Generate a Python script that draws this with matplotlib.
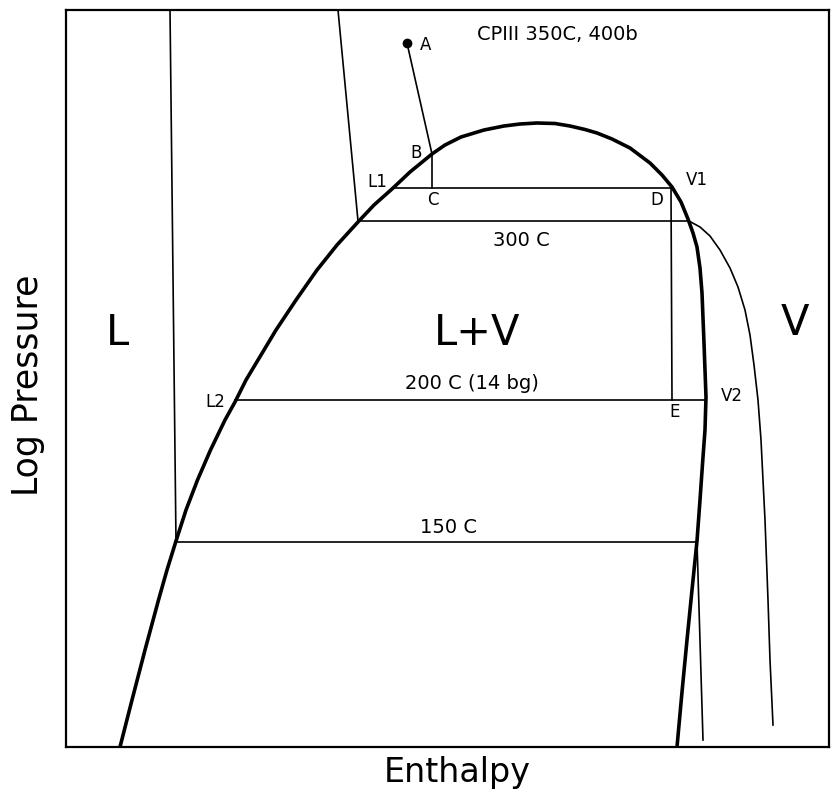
import matplotlib
matplotlib.use("Agg")
import matplotlib.pyplot as plt

# ---- Data: enthalpy (x) and log-pressure (y), arbitrary diagram units ----
# Saturation dome: liquid branch -> critical region -> vapour branch
dome_h = [54, 66, 79, 92.5, 101, 110, 120, 131.5, 144.5, 159, 169, 180, 192,
          210, 230, 251, 271, 292, 308, 326, 344, 366, 379, 395, 418, 438,
          454, 471, 489, 504, 519, 531, 546, 564, 584, 596, 606, 615, 622,
          627, 631, 634, 636, 638, 640, 639, 637, 634, 631, 626, 621, 616, 611]
dome_p = [0, 47, 97, 147, 177, 206, 237, 267, 297, 327, 345, 367, 387,
          417, 447, 477, 502, 525, 542, 558, 575, 593, 602, 610, 617, 621,
          623, 624, 623.5, 621, 617.5, 614, 608, 599, 584, 572, 560, 545, 528,
          514, 500, 479, 454, 404, 350, 317, 290, 247, 206, 157, 107, 55, 0]

# 300 C isotherm: compressed-liquid part and superheated-vapour part
iso300_liq_h = [272, 292]
iso300_liq_p = [737, 526]
iso300_vap_h = [623, 634, 644, 654, 664, 672, 679, 684, 688, 692, 695, 697,
                699, 702, 704, 707]
iso300_vap_p = [526, 520, 511, 497, 479, 460, 437, 412, 382, 347, 307, 267,
                227, 147, 87, 22]

# 150 C isotherm: compressed-liquid part and vapour part
iso150_liq_h = [104, 110]
iso150_liq_p = [737, 205]
iso150_vap_h = [631, 637]
iso150_vap_p = [205, 7]

# Horizontal tie lines inside the dome (level, left end, right end)
tie_levels = [559, 526, 347, 205]
tie_left = [326, 292, 169, 110]
tie_right = [606, 623, 640, 631]

# Process paths A -> B -> C and D -> E
path_abc_h = [341, 366, 366]
path_abc_p = [704, 593, 559]
path_de_h = [605, 606]
path_de_p = [559, 347]

# Labels
point_labels = ["A", "B", "L1", "C", "D", "V1", "L2", "E", "V2"]
point_label_h = [360, 350, 311, 367, 591, 631, 149, 609, 666]
point_label_p = [702, 594, 565, 547, 547, 567, 345, 335, 351]

iso_labels = ["300 C", "200 C (14 bg)", "150 C"]
iso_label_h = [455, 406, 382]
iso_label_p = [507, 364, 220]

region_labels = ["L", "L+V", "V"]
region_label_h = [52, 411, 729]
region_label_p = [414, 414, 424]

title_text = "CPIII 350C, 400b"
title_h, title_p = 491, 713

# ---- Figure ----
W, H = 831, 805
fig = plt.figure(figsize=(W / 100, H / 100), dpi=100)
ax = fig.add_axes([66 / W, (805 - 747) / H, (829 - 66) / W, (747 - 10) / H])
ax.set_xlim(0, 763)
ax.set_ylim(0, 737)
ax.set_xticks([])
ax.set_yticks([])
for s in ax.spines.values():
    s.set_linewidth(1.6)
    s.set_color("black")

thin = 1.2
ax.plot(dome_h, dome_p, color="black", lw=2.6, solid_capstyle="butt",
        solid_joinstyle="round")
ax.plot(iso300_liq_h, iso300_liq_p, color="black", lw=thin)
ax.plot(iso300_vap_h, iso300_vap_p, color="black", lw=thin,
        solid_joinstyle="round")
ax.plot(iso150_liq_h, iso150_liq_p, color="black", lw=thin)
ax.plot(iso150_vap_h, iso150_vap_p, color="black", lw=thin)
for lv, l, r in zip(tie_levels, tie_left, tie_right):
    ax.plot([l, r], [lv, lv], color="black", lw=thin)
ax.plot(path_abc_h, path_abc_p, color="black", lw=thin)
ax.plot(path_abc_h[:1], path_abc_p[:1], "o", color="black", ms=6)
ax.plot(path_de_h, path_de_p, color="black", lw=thin)

fam = "DejaVu Sans"
for t, h, p in zip(point_labels, point_label_h, point_label_p):
    ax.text(h, p, t, ha="center", va="center", fontsize=12, family=fam)
for t, h, p in zip(iso_labels, iso_label_h, iso_label_p):
    ax.text(h, p, t, ha="center", va="center", fontsize=14, family=fam)
for t, h, p in zip(region_labels, region_label_h, region_label_p):
    ax.text(h, p, t, ha="center", va="center", fontsize=30, family=fam)
ax.text(title_h, title_p, title_text, ha="center", va="center",
        fontsize=14, family=fam)

fig.text(457 / W, 1 - 772 / H, "Enthalpy", ha="center", va="center",
         fontsize=24, family=fam)
fig.text(28 / W, 1 - 385 / H, "Log Pressure", ha="center", va="center",
         rotation=90, fontsize=25, family=fam)

fig.savefig("out.png", dpi=100)
